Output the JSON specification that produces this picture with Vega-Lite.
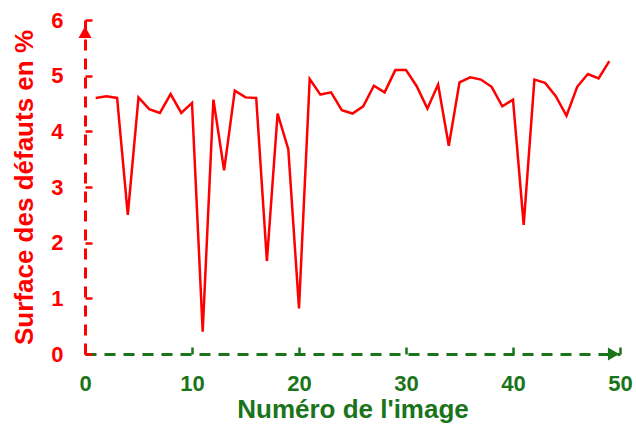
{
  "$schema": "https://vega.github.io/schema/vega-lite/v6.json",
  "width": 535,
  "height": 334,
  "autosize": {"type": "none"},
  "padding": {"left": 85, "top": 20, "right": 16, "bottom": 71},
  "background": "white",
  "config": {"view": {"stroke": null}, "font": "Liberation Sans"},
  "datasets": {
    "series": [
      {"image": 1, "surface": 4.60}, {"image": 2, "surface": 4.63}, {"image": 3, "surface": 4.60},
      {"image": 4, "surface": 2.50}, {"image": 5, "surface": 4.61}, {"image": 6, "surface": 4.40},
      {"image": 7, "surface": 4.33}, {"image": 8, "surface": 4.67}, {"image": 9, "surface": 4.33},
      {"image": 10, "surface": 4.51}, {"image": 11, "surface": 0.40}, {"image": 12, "surface": 4.57},
      {"image": 13, "surface": 3.30}, {"image": 14, "surface": 4.73}, {"image": 15, "surface": 4.61},
      {"image": 16, "surface": 4.60}, {"image": 17, "surface": 1.67}, {"image": 18, "surface": 4.32},
      {"image": 19, "surface": 3.68}, {"image": 20, "surface": 0.82}, {"image": 21, "surface": 4.94},
      {"image": 22, "surface": 4.66}, {"image": 23, "surface": 4.70}, {"image": 24, "surface": 4.38},
      {"image": 25, "surface": 4.32}, {"image": 26, "surface": 4.45}, {"image": 27, "surface": 4.82},
      {"image": 28, "surface": 4.70}, {"image": 29, "surface": 5.10}, {"image": 30, "surface": 5.10},
      {"image": 31, "surface": 4.81}, {"image": 32, "surface": 4.41}, {"image": 33, "surface": 4.84},
      {"image": 34, "surface": 3.74}, {"image": 35, "surface": 4.88}, {"image": 36, "surface": 4.97},
      {"image": 37, "surface": 4.93}, {"image": 38, "surface": 4.80}, {"image": 39, "surface": 4.45},
      {"image": 40, "surface": 4.57}, {"image": 41, "surface": 2.32}, {"image": 42, "surface": 4.93},
      {"image": 43, "surface": 4.87}, {"image": 44, "surface": 4.63}, {"image": 45, "surface": 4.28},
      {"image": 46, "surface": 4.80}, {"image": 47, "surface": 5.03}, {"image": 48, "surface": 4.95},
      {"image": 49, "surface": 5.26}
    ],
    "yarrow": [{"image": 0, "surface": 5.78}],
    "xarrow": [{"image": 49.4, "surface": 0}]
  },
  "layer": [
    {
      "data": {"name": "series"},
      "mark": {"type": "line", "color": "#ff0000", "strokeWidth": 2.5, "clip": false},
      "encoding": {
        "x": {
          "field": "image", "type": "quantitative",
          "scale": {"domain": [0, 50], "nice": false, "zero": true},
          "axis": {
            "title": "Numéro de l'image",
            "values": [0, 10, 20, 30, 40, 50],
            "format": "d",
            "grid": false,
            "domainColor": "#1a741a", "domainWidth": 3, "domainDash": [11, 8],
            "tickColor": "#1a741a", "tickWidth": 2.5, "tickSize": -7,
            "labelPadding": 26,
            "labelColor": "#1a741a", "labelFont": "Liberation Sans", "labelFontSize": 22, "labelFontWeight": "bold",
            "labelFlush": false,
            "titleColor": "#1a741a", "titleFont": "Liberation Sans", "titleFontSize": 26, "titleFontWeight": "bold",
            "titlePadding": 2
          }
        },
        "y": {
          "field": "surface", "type": "quantitative",
          "scale": {"domain": [0, 6], "nice": false},
          "axis": {
            "title": "Surface des défauts en %",
            "values": [0, 1, 2, 3, 4, 5, 6],
            "format": "d",
            "grid": false,
            "domainColor": "#ff0000", "domainWidth": 3, "domainDash": [11, 8],
            "tickColor": "#ff0000", "tickWidth": 2.5, "tickSize": -7,
            "labelPadding": 29,
            "labelColor": "#ff0000", "labelFont": "Liberation Sans", "labelFontSize": 22, "labelFontWeight": "bold",
            "labelFlush": false,
            "titleColor": "#ff0000", "titleFont": "Liberation Sans", "titleFontSize": 26, "titleFontWeight": "bold",
            "titlePadding": 13
          }
        }
      }
    },
    {
      "data": {"name": "yarrow"},
      "mark": {"type": "point", "shape": "triangle-up", "filled": true, "color": "#ff0000", "opacity": 1, "size": 170, "clip": false},
      "encoding": {
        "x": {"field": "image", "type": "quantitative"},
        "y": {"field": "surface", "type": "quantitative"}
      }
    },
    {
      "data": {"name": "xarrow"},
      "mark": {"type": "point", "shape": "triangle-right", "filled": true, "color": "#1a741a", "opacity": 1, "size": 170, "clip": false},
      "encoding": {
        "x": {"field": "image", "type": "quantitative"},
        "y": {"field": "surface", "type": "quantitative"}
      }
    }
  ]
}
